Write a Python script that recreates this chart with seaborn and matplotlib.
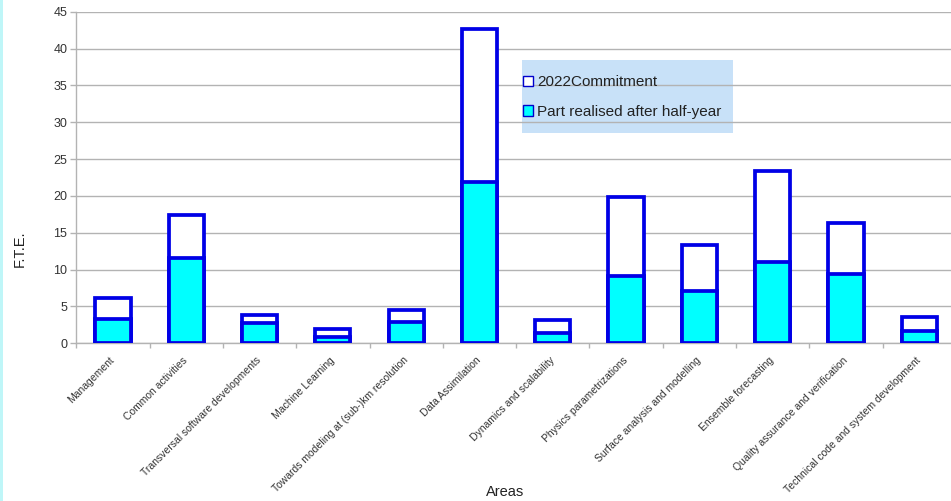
import matplotlib
matplotlib.use("Agg")
import matplotlib.pyplot as plt
import seaborn as sns
import pandas as pd
from matplotlib.patches import Patch, Rectangle
from matplotlib.ticker import FixedLocator

# Areas of work and full-time-equivalent effort
areas = [
    "Management",
    "Common activities",
    "Transversal software developments",
    "Machine Learning",
    "Towards modeling at (sub-)km resolution",
    "Data Assimilation",
    "Dynamics and scalability",
    "Physics parametrizations",
    "Surface analysis and modelling",
    "Ensemble forecasting",
    "Quality assurance and verification",
    "Technical code and system development",
]
commitment_2022 = [6.2, 17.4, 3.8, 1.9, 4.5, 42.6, 3.2, 19.8, 13.4, 23.4, 16.3, 3.6]
realised_half_year = [3.3, 11.6, 2.8, 0.8, 2.9, 21.9, 1.45, 9.1, 7.1, 11.1, 9.4, 1.7]
series_labels = ["2022Commitment", "Part realised after half-year"]
y_ticks = [0, 5, 10, 15, 20, 25, 30, 35, 40, 45]

df = pd.DataFrame({
    "area": areas,
    "commitment": commitment_2022,
    "realised": realised_half_year,
})

sns.set_theme(style="white")
plt.rcParams["font.family"] = ["Liberation Sans", "DejaVu Sans"]

EDGE = "#0000e6"
FILL = "#00ffff"
GRID = "#b3b3b3"
TEXT = "#333333"

W, H = 951, 501
fig = plt.figure(figsize=(W / 100, H / 100), dpi=100)
fig.patch.set_facecolor("white")

left_px, right_px, top_px, bottom_px = 76.3, 955.9, 11.7, 343.3
ax = fig.add_axes([left_px / W, 1 - bottom_px / H,
                   (right_px - left_px) / W, (bottom_px - top_px) / H])

# full commitment bar, with the realised part drawn over it
sns.barplot(data=df, x="area", y="commitment", color="white", saturation=1,
            edgecolor=EDGE, linewidth=2.7, width=0.48, ax=ax, zorder=2)
sns.barplot(data=df, x="area", y="realised", color=FILL, saturation=1,
            edgecolor=EDGE, linewidth=2.7, width=0.48, ax=ax, zorder=3)

ax.set_xlim(-0.5, len(areas) - 0.5)
ax.set_ylim(0, 45)
ax.set_yticks(y_ticks)
ax.set_yticklabels([str(t) for t in y_ticks], fontsize=9, color=TEXT)
ax.yaxis.grid(True, color=GRID, linewidth=1.0)
ax.xaxis.grid(False)
ax.set_axisbelow(True)

for side in ["top", "right"]:
    ax.spines[side].set_visible(False)
for side in ["left", "bottom"]:
    ax.spines[side].set_color(GRID)
    ax.spines[side].set_linewidth(1.0)

ax.tick_params(axis="y", which="major", direction="out", length=4, width=1,
               color=GRID, pad=2.5, left=True)
ax.set_xticks(range(len(areas)))
ax.set_xticklabels(areas, rotation=45, ha="right", rotation_mode="anchor",
                   va="center", fontsize=7.5, color=TEXT)
ax.tick_params(axis="x", which="major", length=0, pad=11)
ax.xaxis.set_minor_locator(FixedLocator([i - 0.5 for i in range(len(areas) + 1)]))
ax.tick_params(axis="x", which="minor", direction="out", length=3.5, width=1,
               color=GRID, bottom=True)

ax.set_xlabel("")
ax.set_ylabel("")
fig.text(20 / W, 1 - 249 / H, "F.T.E.", rotation=90, ha="center", va="center",
         fontsize=10.5, color="#222222")
fig.text(505 / W, 1 - 492 / H, "Areas", ha="center", va="center",
         fontsize=10.5, color="#222222")

# legend panel
ax.add_patch(Rectangle((521.7 / W, 1 - 132.7 / H), (733.3 - 521.7) / W,
                       (132.7 - 60) / H, transform=fig.transFigure,
                       facecolor="#c8e1f8", edgecolor="none", zorder=0.2,
                       clip_on=False))
handles = [
    Patch(facecolor="white", edgecolor="#0000cc", linewidth=1.0, label=series_labels[0]),
    Patch(facecolor=FILL, edgecolor="#0000cc", linewidth=1.0, label=series_labels[1]),
]
ax.legend(handles=handles, loc="center left",
          bbox_to_anchor=(522.5 / W, 1 - 97 / H), bbox_transform=fig.transFigure,
          frameon=False, fontsize=11, borderpad=0, borderaxespad=0,
          handlelength=0.7, handleheight=0.7, handletextpad=0.25,
          labelspacing=1.0, labelcolor="#222222")

# thin tinted strip along the left edge
fig.add_artist(Rectangle((0, 0), 3 / W, 1, transform=fig.transFigure,
                         facecolor="#bff6f8", edgecolor="none"))

fig.savefig("out.png", dpi=100)
